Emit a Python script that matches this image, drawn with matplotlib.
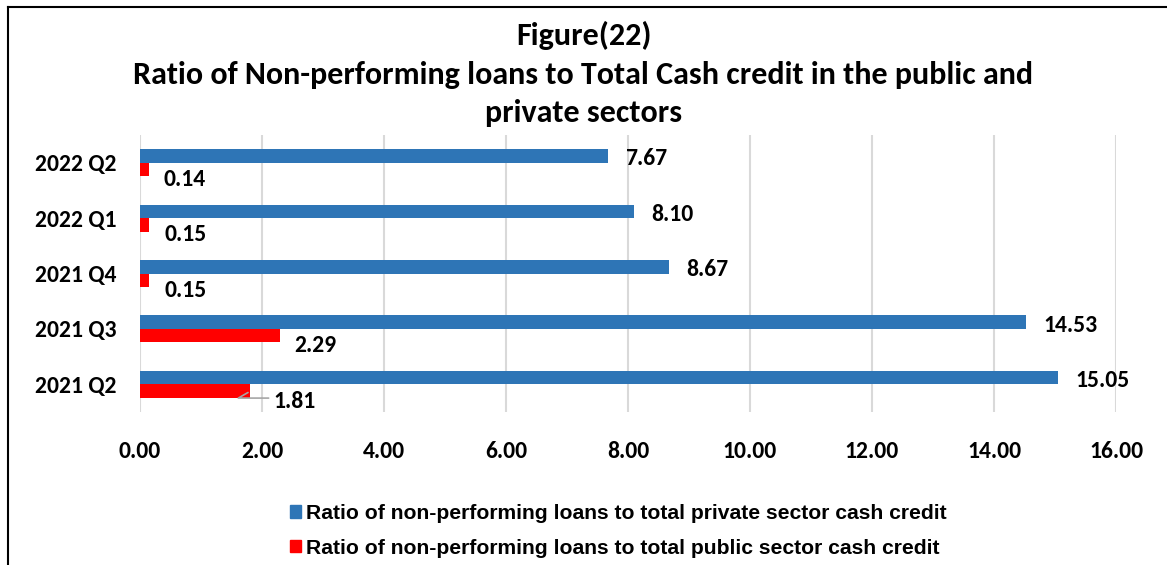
import numpy as np
import matplotlib.pyplot as plt
from matplotlib.lines import Line2D
from matplotlib.patches import Patch

# quarters, bottom to top
quarters = ['2021 Q2', '2021 Q3', '2021 Q4', '2022 Q1', '2022 Q2']
private_ratio = [15.05, 14.53, 8.67, 8.10, 7.67]
public_ratio = [1.81, 2.29, 0.15, 0.15, 0.14]
xticks = [0, 2, 4, 6, 8, 10, 12, 14, 16]

private_label = 'Ratio of non-performing loans to total private sector cash credit'
public_label = 'Ratio of non-performing loans to total public sector cash credit'

blue = '#2E75B6'
red = '#FF0000'
W, H = 1167, 565

plt.rcParams['font.family'] = ['Carlito', 'DejaVu Sans']
plt.rcParams['font.weight'] = 'bold'

fig = plt.figure(figsize=(W / 100, H / 100), dpi=100)
ax = fig.add_axes([140 / W, 1 - 412 / H, (1116 - 140) / W, (412 - 135) / H])

y = np.arange(len(quarters))
h = 0.245
ax.barh(y + h / 2, private_ratio, height=h, color=blue, zorder=3)
ax.barh(y - h / 2, public_ratio, height=h, color=red, zorder=3)

ax.set_xlim(0, 16)
ax.set_ylim(-0.5, len(quarters) - 0.5)
ax.set_xticks(xticks)
ax.set_xticklabels(['%.2f' % v for v in xticks], fontsize=17, fontweight='bold')
ax.set_yticks(y)
ax.set_yticklabels(quarters, fontsize=17, fontweight='bold')
ax.tick_params(axis='both', length=0)
ax.tick_params(axis='x', pad=21)
ax.tick_params(axis='y', pad=17)
for s in ax.spines.values():
    s.set_visible(False)
ax.grid(axis='x', color='#D9D9D9', linewidth=1.5, zorder=0)

# value labels
for yi, v in zip(y, private_ratio):
    ax.annotate('%.2f' % v, (v, yi + h / 2), xytext=(17, -3), textcoords='offset pixels',
                ha='left', va='center', fontsize=17, fontweight='bold')
for yi, v in zip(y, public_ratio):
    dx = 23 if v == 1.81 else 15
    ax.annotate('%.2f' % v, (v, yi - h / 2), xytext=(dx, -10), textcoords='offset pixels',
                ha='left', va='center', fontsize=17, fontweight='bold')
    if v == 1.81:
        # leader line to the label
        ax.annotate('', (v, yi - h / 2), xytext=(dx - 2, -7), textcoords='offset pixels',
                    arrowprops=dict(arrowstyle='-', color='#A6A6A6', lw=1.2,
                                    connectionstyle='angle,angleA=0,angleB=30,rad=0'))

# title
fig.text(0.5, 1 - 35 / H, 'Figure(22)', ha='center', va='center', fontsize=23, fontweight='bold')
fig.text(0.5, 1 - 94 / H,
         'Ratio of Non-performing loans to Total Cash credit in the public and\nprivate sectors',
         ha='center', va='center', fontsize=23, fontweight='bold', linespacing=1.42)

# legend
handles = [Patch(color=blue), Patch(color=red)]
fig.legend(handles, [private_label, public_label], loc='upper left',
           bbox_to_anchor=(271 / W, 1 - 485 / H), frameon=False,
           handlelength=0.5, handleheight=0.5, handletextpad=0.25, labelspacing=0.75,
           prop={'family': 'Liberation Sans', 'weight': 'bold', 'size': 15.2})

# outer frame (left and top edges)
fig.add_artist(Line2D([8 / W, 8 / W], [0, 1 - 7 / H], color='black', lw=1.5))
fig.add_artist(Line2D([8 / W, 1], [1 - 7 / H, 1 - 7 / H], color='black', lw=1.5))

fig.savefig('out.png', dpi=100)
